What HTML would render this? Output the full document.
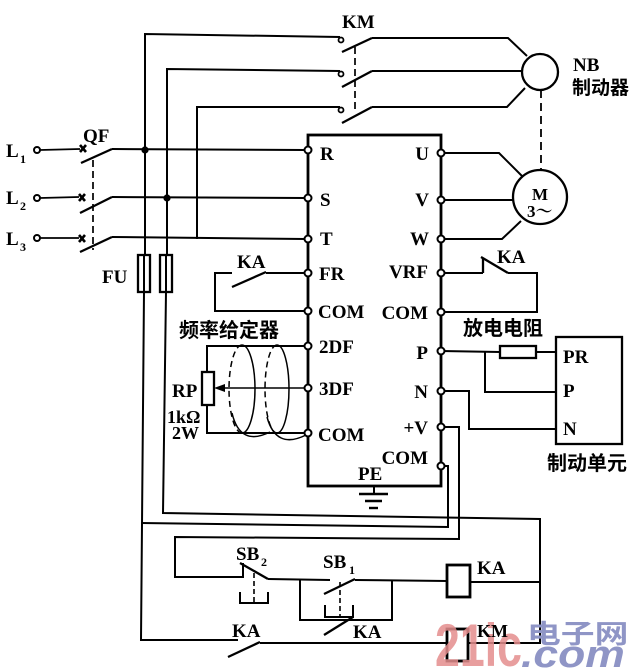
<!DOCTYPE html>
<html><head><meta charset="utf-8"><style>
html,body{margin:0;padding:0;background:#fff;}
svg{display:block;}
text{font-family:"Liberation Serif","Noto Serif CJK SC",serif;font-weight:bold;fill:#000;}
text.cj{font-family:"Liberation Sans","Noto Sans CJK SC",sans-serif;font-weight:bold;}
</style></head><body>
<svg width="635" height="668" viewBox="0 0 635 668" xmlns="http://www.w3.org/2000/svg">
<rect width="635" height="668" fill="#fff"/>
<g fill="none" stroke="#000" stroke-width="2" stroke-linejoin="miter">
  <!-- top feeder wires -->
  <polyline points="145,255 145,34 340,37"/>
  <polyline points="167,255 167,69 340,71"/>
  <polyline points="197,239 197,107 340,107"/>
  <!-- KM contacts -->
  <circle cx="341" cy="40" r="2.5" stroke-width="1.8"/>
  <circle cx="341" cy="74" r="2.5" stroke-width="1.8"/>
  <circle cx="341" cy="110" r="2.5" stroke-width="1.8"/>
  <line x1="342" y1="52" x2="372" y2="38" stroke-width="2.3"/>
  <line x1="342" y1="87" x2="372" y2="71" stroke-width="2.3"/>
  <line x1="342" y1="123" x2="372" y2="107" stroke-width="2.3"/>
  <line x1="355" y1="47" x2="355" y2="110" stroke-dasharray="7,4" stroke-width="1.7"/>
  <polyline points="372,38 508,38 527,56"/>
  <line x1="372" y1="71" x2="522" y2="71"/>
  <polyline points="372,107 507,107 525,88"/>
  <circle cx="540" cy="72" r="18" stroke-width="2.3"/>
  <line x1="541" y1="90" x2="541" y2="170" stroke-dasharray="8,5" stroke-width="1.8"/>
  <circle cx="540" cy="197" r="27" stroke-width="2.3"/>

  <!-- inverter box -->
  <rect x="308" y="135" width="133" height="351" stroke-width="2.8"/>

  <!-- QF and mains -->
  <circle cx="37" cy="150" r="3" stroke-width="2"/>
  <circle cx="37" cy="198" r="3" stroke-width="2"/>
  <circle cx="37" cy="238" r="3" stroke-width="2"/>
  <line x1="40" y1="150" x2="80" y2="149" stroke-width="1.7"/>
  <line x1="40" y1="198" x2="79" y2="197" stroke-width="1.7"/>
  <line x1="40" y1="238" x2="79" y2="238" stroke-width="1.7"/>
  <g stroke-width="2.6">
    <line x1="80" y1="145" x2="86" y2="152"/><line x1="80" y1="152" x2="86" y2="145"/>
    <line x1="79" y1="194" x2="85" y2="201"/><line x1="79" y1="201" x2="85" y2="194"/>
    <line x1="79" y1="235" x2="85" y2="242"/><line x1="79" y1="242" x2="85" y2="235"/>
  </g>
  <line x1="81" y1="163" x2="112" y2="149" stroke-width="2.3"/>
  <line x1="80" y1="213" x2="112" y2="197" stroke-width="2.3"/>
  <line x1="80" y1="252" x2="112" y2="237" stroke-width="2.3"/>
  <line x1="112" y1="149" x2="305" y2="150"/>
  <line x1="112" y1="197" x2="305" y2="198"/>
  <line x1="112" y1="237" x2="305" y2="239"/>
  <line x1="93" y1="160" x2="93" y2="250" stroke-dasharray="7,4" stroke-width="1.7"/>

  <!-- fuses -->
  <rect x="138" y="255" width="12" height="37" stroke-width="2.3"/>
  <rect x="160" y="255" width="12" height="37" stroke-width="2.3"/>
  <line x1="144" y1="255" x2="144" y2="292"/>
  <line x1="166" y1="255" x2="166" y2="292"/>

  <!-- control wiring -->
  <polyline points="144,292 141,640 238,640"/>
  <polyline points="141,523 448,527 448,466 441,466"/>
  <polyline points="166,292 163,513 540,519 540,643 468,643"/>
  <polyline points="441,427 459,427 459,539 175,537 175,577 243,577 243,563"/>
  <line x1="240" y1="563" x2="268" y2="579" stroke-width="2.3"/>
  <line x1="268" y1="579" x2="330" y2="580"/>
  <line x1="324" y1="594" x2="355" y2="579" stroke-width="2.3"/>
  <line x1="355" y1="580" x2="447" y2="581"/>
  <polyline points="300,580 300,620 392,620 392,581"/>
  <line x1="324" y1="635" x2="353" y2="617" stroke-width="2.3"/>
  <polyline points="240,592 240,603 268,603 268,592"/>
  <line x1="254" y1="573" x2="254" y2="603" stroke-dasharray="5,3" stroke-width="1.6"/>
  <polyline points="325,605 325,617 353,617 353,605"/>
  <line x1="340" y1="582" x2="340" y2="617" stroke-dasharray="5,3" stroke-width="1.6"/>
  <rect x="447" y="565" width="23" height="32" stroke-width="2.8"/>
  <line x1="470" y1="582" x2="540" y2="582"/>
  <rect x="447" y="629" width="21" height="32" stroke-width="2.8"/>
  <line x1="228" y1="657" x2="260" y2="642" stroke-width="2.3"/>
  <line x1="260" y1="643" x2="447" y2="643"/>

  <!-- motor side -->
  <polyline points="441,153 499,153 522,176"/>
  <line x1="441" y1="200" x2="513" y2="200"/>
  <polyline points="441,239 502,239 521,221"/>
  <!-- VRF KA NC -->
  <line x1="441" y1="273" x2="483" y2="273"/>
  <line x1="483" y1="258" x2="483" y2="273" stroke-width="2.3"/>
  <line x1="481" y1="257" x2="508" y2="273" stroke-width="2.3"/>
  <polyline points="508,273 537,273 537,312 441,312"/>
  <!-- braking unit -->
  <line x1="441" y1="351" x2="500" y2="352"/>
  <rect x="500" y="346" width="36" height="12" stroke-width="2.3"/>
  <line x1="536" y1="352" x2="556" y2="352"/>
  <polyline points="485,351 485,392 556,392"/>
  <polyline points="441,391 469,391 469,429 556,429"/>
  <rect x="556" y="337" width="66" height="107" stroke-width="2.3"/>

  <!-- FR/COM KA -->
  <polyline points="232,273 215,273 215,311 305,311"/>
  <line x1="232" y1="287" x2="266" y2="272" stroke-width="2.3"/>
  <line x1="266" y1="273" x2="305" y2="273"/>
  <!-- potentiometer -->
  <polyline points="305,346 207,346 207,372"/>
  <rect x="202" y="372" width="12" height="33" stroke-width="2.3"/>
  <polyline points="207,405 207,433 305,433"/>
  <line x1="305" y1="388" x2="222" y2="388" stroke-width="1.5"/>
  <!-- shield helix -->
  <path d="M242,345 A13,44 0 0 0 242,433" stroke-dasharray="6,4" stroke-width="1.5"/>
  <path d="M242,345 A13,44 0 0 1 242,433" stroke-width="1.5"/>
  <path d="M277,345 A12,44 0 0 0 277,433" stroke-dasharray="6,4" stroke-width="1.5"/>
  <path d="M277,345 A12,44 0 0 1 277,433" stroke-width="1.5"/>
  <path d="M232,413 Q240,447 270,432" stroke-width="1.5"/>
  <path d="M267,417 Q276,450 306,435" stroke-width="1.5"/>

  <!-- ground -->
  <line x1="374" y1="486" x2="374" y2="494"/>
  <line x1="359" y1="494" x2="388" y2="494" stroke-width="2.4"/>
  <line x1="365" y1="501" x2="382" y2="501" stroke-width="2.4"/>
  <line x1="369" y1="508" x2="378" y2="508" stroke-width="2.4"/>
</g>
<polygon points="214,388 225,384 225,392" fill="#000"/>
<circle cx="145" cy="150" r="3.6" fill="#000"/>
<circle cx="167" cy="198" r="3.6" fill="#000"/>
<!-- terminals -->
<g fill="#fff" stroke="#000" stroke-width="2">
  <circle cx="308" cy="150" r="3.5"/><circle cx="308" cy="198" r="3.5"/><circle cx="308" cy="239" r="3.5"/>
  <circle cx="308" cy="273" r="3.5"/><circle cx="308" cy="311" r="3.5"/><circle cx="308" cy="346" r="3.5"/>
  <circle cx="308" cy="388" r="3.5"/><circle cx="308" cy="433" r="3.5"/>
  <circle cx="441" cy="153" r="3.5"/><circle cx="441" cy="200" r="3.5"/><circle cx="441" cy="239" r="3.5"/>
  <circle cx="441" cy="273" r="3.5"/><circle cx="441" cy="312" r="3.5"/><circle cx="441" cy="351" r="3.5"/>
  <circle cx="441" cy="391" r="3.5"/><circle cx="441" cy="427" r="3.5"/><circle cx="441" cy="466" r="3.5"/>
</g>

<!-- labels -->
<g font-size="19">
  <text x="342" y="28">KM</text>
  <text x="573" y="71">NB</text>
  <text x="532" y="200" font-size="17">M</text>
  <text x="527" y="217" font-size="17">3～</text>
  <text x="6" y="157">L</text><text x="20" y="163" font-size="12">1</text>
  <text x="6" y="204">L</text><text x="20" y="210" font-size="12">2</text>
  <text x="6" y="245">L</text><text x="20" y="251" font-size="12">3</text>
  <text x="83" y="142">QF</text>
  <text x="102" y="283">FU</text>
  <text x="320" y="160">R</text>
  <text x="320" y="206">S</text>
  <text x="320" y="245">T</text>
  <text x="319" y="280">FR</text>
  <text x="318" y="318">COM</text>
  <text x="319" y="353">2DF</text>
  <text x="319" y="395">3DF</text>
  <text x="318" y="441">COM</text>
  <g text-anchor="end">
    <text x="429" y="160">U</text>
    <text x="429" y="206">V</text>
    <text x="429" y="245">W</text>
    <text x="428" y="278">VRF</text>
    <text x="428" y="319">COM</text>
    <text x="428" y="359">P</text>
    <text x="428" y="398">N</text>
    <text x="428" y="434">+V</text>
    <text x="428" y="464">COM</text>
  </g>
  <text x="358" y="480">PE</text>
  <text x="237" y="268">KA</text>
  <text x="497" y="263">KA</text>
  <text x="172" y="397">RP</text>
  <text x="167" y="423" font-size="18">1kΩ</text>
  <text x="172" y="439" font-size="18">2W</text>
  <text x="563" y="363">PR</text>
  <text x="563" y="397">P</text>
  <text x="563" y="435">N</text>
  <text x="236" y="560">SB</text><text x="261" y="566" font-size="12">2</text>
  <text x="323" y="568">SB</text><text x="349" y="574" font-size="12">1</text>
  <text x="477" y="574">KA</text>
  <text x="353" y="638">KA</text>
  <text x="232" y="637">KA</text>
</g>
<g font-size="19">
  <text class="cj" x="572" y="94">制动器</text>
  <text class="cj" x="179" y="337" font-size="20">频率给定器</text>
  <text class="cj" x="463" y="335" font-size="20">放电电阻</text>
  <text class="cj" x="547" y="470" font-size="20">制动单元</text>
</g>

<!-- watermark -->
<g transform="translate(435,666) scale(0.745,1)">
  <text x="0" y="0" style="font-family:'Liberation Sans',sans-serif;font-weight:bold;font-size:60px;fill:#e48e8e;opacity:0.85">21ic</text>
</g>
<text x="477" y="637" font-size="18" style="font-family:'Liberation Serif',serif;font-weight:bold;fill:#000">KM</text>
<g transform="translate(527,643) scale(1.3,1)">
  <text x="0" y="0" style="font-family:'Noto Sans CJK SC',sans-serif;font-weight:bold;font-size:26px;fill:#8f95c6">电子网</text>
</g>
<g transform="translate(521,667) scale(1.17,1)">
  <text x="0" y="0" style="font-family:'Liberation Sans',sans-serif;font-weight:bold;font-style:italic;font-size:38px;fill:#8f95c6">.com</text>
</g>
</svg>
</body></html>
